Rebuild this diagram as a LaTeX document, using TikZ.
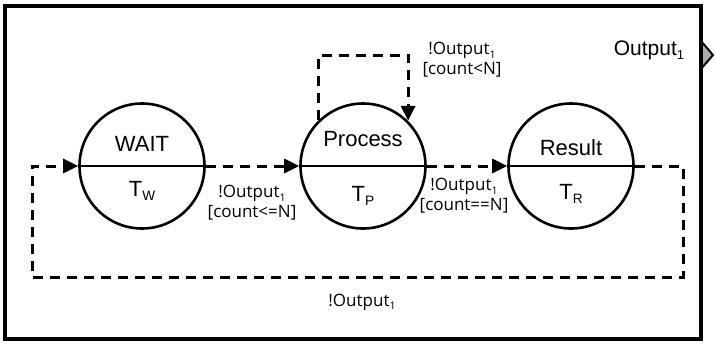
\documentclass[tikz,border=0pt]{standalone}
\usepackage{fontspec}
\setmainfont{Liberation Sans}
\newfontfamily\labelfont{Open Sans}
\usetikzlibrary{arrows.meta}
% small lowered index, e.g. T_W or Output_1
\newcommand{\lowidx}[1]{\raisebox{-0.35ex}{\scalebox{0.62}{#1}}}

\begin{document}
\begin{tikzpicture}[x=1pt,y=-1pt,
  state/.style={circle, draw, line width=2.6pt, minimum size=125pt, inner sep=0pt},
  diam/.style={line width=2.6pt},
  flow/.style={line width=3pt, dash pattern=on 10pt off 7pt,
    -{Triangle[length=15pt,width=14pt]}},
  stlabel/.style={font=\fontsize{22}{24}\selectfont, inner sep=0pt},
  guard/.style={font=\labelfont\fontsize{17}{20}\selectfont, align=center, inner sep=0pt},
]
\useasboundingbox (0,0) rectangle (715,343);

% output port and block frame
\draw[fill=gray!65, line width=2pt] (701,41) -- (713,55) -- (701,69) -- cycle;
\draw[line width=4pt] (5,6) rectangle (701,339);
\node[stlabel, font=\fontsize{21}{23}\selectfont] (out) at (649,50) {Output\lowidx{1}};

% states
\node[state] (W) at (142,166) {};
\node[state] (P) at (363,166) {};
\node[state] (R) at (571,166) {};
\draw[diam] (W.west) -- (W.east);
\draw[diam] (P.west) -- (P.east);
\draw[diam] (R.west) -- (R.east);

\node[stlabel] (wn) at (142,144) {WAIT};
\node[stlabel] (wt) at (142,191) {T\lowidx{W}};
\node[stlabel] (pn) at (363,139) {Process};
\node[stlabel] (pt) at (363,196) {T\lowidx{P}};
\node[stlabel] (rn) at (571,148) {Result};
\node[stlabel] (rt) at (571,194) {T\lowidx{R}};

% transitions
\coordinate (br) at (683,277);
\coordinate (bl) at (32,277);
\coordinate (lt) at (319,55);
\draw[flow] (W.east) -- (P.west);
\draw[flow] (P.east) -- (R.west);
\draw[flow] (R.east) -| (br) -- (bl) |- (W.west);
\draw[flow] (P.134) |- (lt -| P.45) -- (P.45);

% guards
\node[guard] (g1) at (252,203) {!Output\lowidx{1}\\{[count<=N]}};
\node[guard] (g2) at (464,196) {!Output\lowidx{1}\\{[count==N]}};
\node[guard] (g3) at (462,60) {!Output\lowidx{1}\\{[count<N]}};
\node[guard] (g4) at (362,302) {!Output\lowidx{1}};
\end{tikzpicture}
\end{document}
